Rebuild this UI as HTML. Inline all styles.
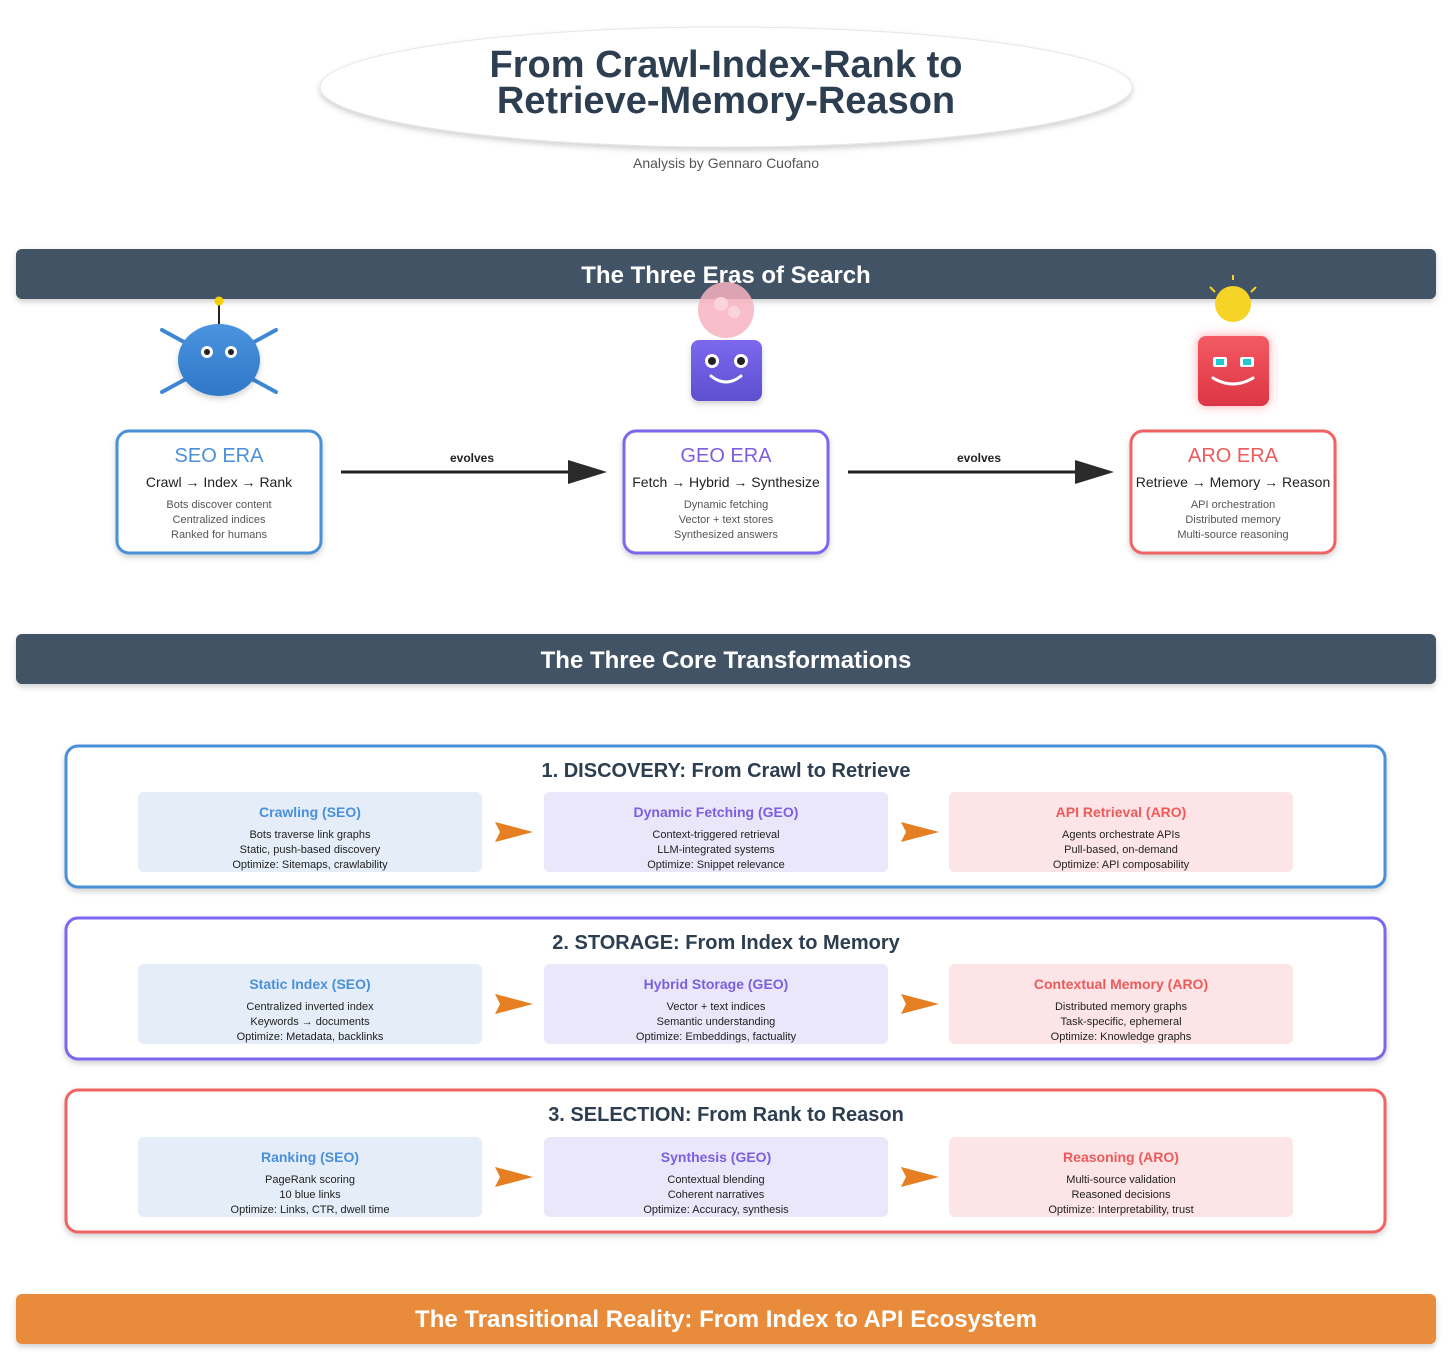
<!DOCTYPE html>
<html><head><meta charset="utf-8"><style>
body{margin:0;background:#fff;}
svg{display:block;font-family:"Liberation Sans",sans-serif;}
</style></head><body>
<svg width="1456" height="1355" viewBox="0 0 1456 1355" xmlns="http://www.w3.org/2000/svg">
<defs>
<filter id="sh" x="-10%" y="-30%" width="120%" height="160%"><feDropShadow dx="0" dy="3" stdDeviation="3" flood-color="#000" flood-opacity="0.18"/></filter>
<filter id="glow" x="-40%" y="-40%" width="180%" height="180%"><feDropShadow dx="0" dy="0" stdDeviation="5" flood-color="#ff4050" flood-opacity="0.5"/></filter>
<linearGradient id="gb" x1="0" y1="0" x2="0" y2="1"><stop offset="0" stop-color="#4a93de"/><stop offset="1" stop-color="#2f78c8"/></linearGradient>
<linearGradient id="gp" x1="0" y1="0" x2="0" y2="1"><stop offset="0" stop-color="#7b68ee"/><stop offset="1" stop-color="#5f4fd0"/></linearGradient>
<linearGradient id="gr" x1="0" y1="0" x2="0" y2="1"><stop offset="0" stop-color="#f45a62"/><stop offset="1" stop-color="#dc3545"/></linearGradient>
</defs>

<ellipse cx="726" cy="87" rx="406" ry="60" fill="#fff" stroke="#e6e6e6" filter="url(#sh)"/>
<text x="726" y="77" text-anchor="middle" font-size="38" font-weight="bold" fill="#2c3e50">From Crawl-Index-Rank to</text>
<text x="726" y="113" text-anchor="middle" font-size="38" font-weight="bold" fill="#2c3e50">Retrieve-Memory-Reason</text>
<text x="726" y="168" text-anchor="middle" font-size="14" fill="#555">Analysis by Gennaro Cuofano</text>

<rect x="16" y="249" width="1420" height="50" rx="6" fill="#425266" filter="url(#sh)"/>
<text x="726" y="283" text-anchor="middle" font-size="24" font-weight="bold" fill="#fff">The Three Eras of Search</text>

<line x1="219" y1="325" x2="219" y2="302" stroke="#222" stroke-width="2"/>
<circle cx="219" cy="301" r="4.5" fill="#f5d000"/>
<g stroke="#3d87d6" stroke-width="4" stroke-linecap="round">
<line x1="162" y1="330" x2="276" y2="392"/><line x1="276" y1="330" x2="162" y2="392"/></g>
<ellipse cx="219" cy="360" rx="41" ry="36" fill="url(#gb)" filter="url(#sh)"/>
<circle cx="207" cy="352" r="6" fill="#fff"/><circle cx="207" cy="352" r="3" fill="#222"/>
<circle cx="231" cy="352" r="6" fill="#fff"/><circle cx="231" cy="352" r="3" fill="#222"/>

<circle cx="726" cy="310" r="28" fill="#f7b3bf" opacity="0.85"/>
<circle cx="721" cy="304" r="7" fill="#fbd3da"/><circle cx="734" cy="312" r="6" fill="#fbd3da"/>
<rect x="691" y="340" width="71" height="61" rx="8" fill="url(#gp)" filter="url(#sh)"/>
<circle cx="712" cy="361" r="7" fill="#fff"/><circle cx="712" cy="361" r="4" fill="#222"/>
<circle cx="741" cy="361" r="7" fill="#fff"/><circle cx="741" cy="361" r="4" fill="#222"/>
<path d="M711 376 Q726 388 741 376" stroke="#fff" stroke-width="3" fill="none" stroke-linecap="round"/>

<g stroke="#f5d327" stroke-width="2"><line x1="1233" y1="275" x2="1233" y2="280"/><line x1="1210" y1="287" x2="1215" y2="292"/><line x1="1256" y1="287" x2="1251" y2="292"/></g>
<circle cx="1233" cy="304" r="18" fill="#f5d327"/>
<rect x="1198" y="336" width="71" height="70" rx="8" fill="url(#gr)" filter="url(#glow)"/>
<rect x="1213" y="357" width="14" height="10" rx="2" fill="#fff"/><rect x="1216" y="359" width="8" height="6" fill="#20c8d0"/>
<rect x="1240" y="357" width="14" height="10" rx="2" fill="#fff"/><rect x="1243" y="359" width="8" height="6" fill="#20c8d0"/>
<path d="M1213 378 Q1233 390 1253 378" stroke="#fff" stroke-width="3" fill="none" stroke-linecap="round"/>

<g font-size="14" text-anchor="middle">
<rect x="117" y="431" width="204" height="122" rx="12" fill="#fff" stroke="#4a90d9" stroke-width="3" filter="url(#sh)"/>
<text x="219" y="462" font-size="20" fill="#4a90d9">SEO ERA</text>
<text x="219" y="487" fill="#222">Crawl → Index → Rank</text>
<text x="219" y="508" font-size="11" fill="#555">Bots discover content</text>
<text x="219" y="523" font-size="11" fill="#555">Centralized indices</text>
<text x="219" y="538" font-size="11" fill="#555">Ranked for humans</text>

<rect x="624" y="431" width="204" height="122" rx="12" fill="#fff" stroke="#7b68ee" stroke-width="3" filter="url(#sh)"/>
<text x="726" y="462" font-size="20" fill="#7b5fe0">GEO ERA</text>
<text x="726" y="487" fill="#222">Fetch → Hybrid → Synthesize</text>
<text x="726" y="508" font-size="11" fill="#555">Dynamic fetching</text>
<text x="726" y="523" font-size="11" fill="#555">Vector + text stores</text>
<text x="726" y="538" font-size="11" fill="#555">Synthesized answers</text>

<rect x="1131" y="431" width="204" height="122" rx="12" fill="#fff" stroke="#f06464" stroke-width="3" filter="url(#sh)"/>
<text x="1233" y="462" font-size="20" fill="#ee5a5a">ARO ERA</text>
<text x="1233" y="487" fill="#222">Retrieve → Memory → Reason</text>
<text x="1233" y="508" font-size="11" fill="#555">API orchestration</text>
<text x="1233" y="523" font-size="11" fill="#555">Distributed memory</text>
<text x="1233" y="538" font-size="11" fill="#555">Multi-source reasoning</text>
</g>

<line x1="341" y1="472" x2="572" y2="472" stroke="#222" stroke-width="3"/>
<polygon points="568,460 607,472 568,484" fill="#2a2a2a"/>
<text x="472" y="462" text-anchor="middle" font-size="12" font-weight="bold" fill="#222">evolves</text>
<line x1="848" y1="472" x2="1078" y2="472" stroke="#222" stroke-width="3"/>
<polygon points="1075,460 1114,472 1075,484" fill="#2a2a2a"/>
<text x="979" y="462" text-anchor="middle" font-size="12" font-weight="bold" fill="#222">evolves</text>

<rect x="16" y="634" width="1420" height="50" rx="6" fill="#425266" filter="url(#sh)"/>
<text x="726" y="668" text-anchor="middle" font-size="24" font-weight="bold" fill="#fff">The Three Core Transformations</text>

<g text-anchor="middle">
<rect x="66" y="746" width="1319" height="141" rx="12" fill="#fff" stroke="#4a90d9" stroke-width="3" filter="url(#sh)"/>
<text x="726" y="777" font-size="20" font-weight="bold" fill="#2c3e50">1. DISCOVERY: From Crawl to Retrieve</text>
<rect x="66" y="918" width="1319" height="141" rx="12" fill="#fff" stroke="#7b68ee" stroke-width="3" filter="url(#sh)"/>
<text x="726" y="949" font-size="20" font-weight="bold" fill="#2c3e50">2. STORAGE: From Index to Memory</text>
<rect x="66" y="1090" width="1319" height="142" rx="12" fill="#fff" stroke="#f06464" stroke-width="3" filter="url(#sh)"/>
<text x="726" y="1121" font-size="20" font-weight="bold" fill="#2c3e50">3. SELECTION: From Rank to Reason</text>
</g>

<g text-anchor="middle" font-size="11" fill="#222">
<rect x="138" y="792" width="344" height="80" rx="6" fill="#e4edf8"/>
<rect x="544" y="792" width="344" height="80" rx="6" fill="#e9e7f9"/>
<rect x="949" y="792" width="344" height="80" rx="6" fill="#fde4e6"/>
<text x="310" y="817" font-size="14" font-weight="bold" fill="#4a90d9">Crawling (SEO)</text>
<text x="310" y="838">Bots traverse link graphs</text><text x="310" y="853">Static, push-based discovery</text><text x="310" y="868">Optimize: Sitemaps, crawlability</text>
<text x="716" y="817" font-size="14" font-weight="bold" fill="#7b5fe0">Dynamic Fetching (GEO)</text>
<text x="716" y="838">Context-triggered retrieval</text><text x="716" y="853">LLM-integrated systems</text><text x="716" y="868">Optimize: Snippet relevance</text>
<text x="1121" y="817" font-size="14" font-weight="bold" fill="#ee5a5a">API Retrieval (ARO)</text>
<text x="1121" y="838">Agents orchestrate APIs</text><text x="1121" y="853">Pull-based, on-demand</text><text x="1121" y="868">Optimize: API composability</text>
<rect x="138" y="964" width="344" height="80" rx="6" fill="#e4edf8"/>
<rect x="544" y="964" width="344" height="80" rx="6" fill="#e9e7f9"/>
<rect x="949" y="964" width="344" height="80" rx="6" fill="#fde4e6"/>
<text x="310" y="989" font-size="14" font-weight="bold" fill="#4a90d9">Static Index (SEO)</text>
<text x="310" y="1010">Centralized inverted index</text><text x="310" y="1025">Keywords → documents</text><text x="310" y="1040">Optimize: Metadata, backlinks</text>
<text x="716" y="989" font-size="14" font-weight="bold" fill="#7b5fe0">Hybrid Storage (GEO)</text>
<text x="716" y="1010">Vector + text indices</text><text x="716" y="1025">Semantic understanding</text><text x="716" y="1040">Optimize: Embeddings, factuality</text>
<text x="1121" y="989" font-size="14" font-weight="bold" fill="#ee5a5a">Contextual Memory (ARO)</text>
<text x="1121" y="1010">Distributed memory graphs</text><text x="1121" y="1025">Task-specific, ephemeral</text><text x="1121" y="1040">Optimize: Knowledge graphs</text>
<rect x="138" y="1137" width="344" height="80" rx="6" fill="#e4edf8"/>
<rect x="544" y="1137" width="344" height="80" rx="6" fill="#e9e7f9"/>
<rect x="949" y="1137" width="344" height="80" rx="6" fill="#fde4e6"/>
<text x="310" y="1162" font-size="14" font-weight="bold" fill="#4a90d9">Ranking (SEO)</text>
<text x="310" y="1183">PageRank scoring</text><text x="310" y="1198">10 blue links</text><text x="310" y="1213">Optimize: Links, CTR, dwell time</text>
<text x="716" y="1162" font-size="14" font-weight="bold" fill="#7b5fe0">Synthesis (GEO)</text>
<text x="716" y="1183">Contextual blending</text><text x="716" y="1198">Coherent narratives</text><text x="716" y="1213">Optimize: Accuracy, synthesis</text>
<text x="1121" y="1162" font-size="14" font-weight="bold" fill="#ee5a5a">Reasoning (ARO)</text>
<text x="1121" y="1183">Multi-source validation</text><text x="1121" y="1198">Reasoned decisions</text><text x="1121" y="1213">Optimize: Interpretability, trust</text>
</g>

<g fill="#e67e22">
<polygon points="495,822 533,832 495,842 500,832"/><polygon points="901,822 939,832 901,842 906,832"/>
<polygon points="495,994 533,1004 495,1014 500,1004"/><polygon points="901,994 939,1004 901,1014 906,1004"/>
<polygon points="495,1167 533,1177 495,1187 500,1177"/><polygon points="901,1167 939,1177 901,1187 906,1177"/>
</g>

<rect x="16" y="1294" width="1420" height="50" rx="6" fill="#e88c3a" filter="url(#sh)"/>
<text x="726" y="1327" text-anchor="middle" font-size="24" font-weight="bold" fill="#fff">The Transitional Reality: From Index to API Ecosystem</text>
</svg>
</body></html>
